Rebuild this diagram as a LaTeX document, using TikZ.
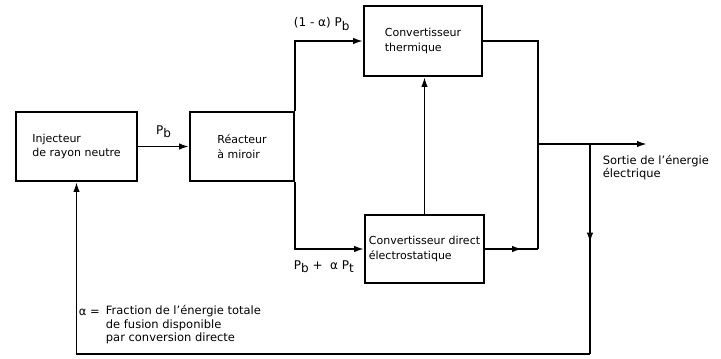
\documentclass[tikz,border=0pt]{standalone}
\usepackage{fontspec}
\setmainfont{DejaVu Sans}
\usepackage{tikz}
\usetikzlibrary{arrows.meta, positioning, decorations.markings}
\newcommand{\idx}[1]{\raisebox{-0.5ex}{#1}}

\begin{document}
\begin{tikzpicture}[x=1pt, y=-1pt,
  font=\fontsize{11}{14.5}\selectfont,
  line width=1.8pt,
  >={Latex[length=10pt,width=6.5pt]},
  bloc/.style={draw, rectangle, align=left, inner sep=0pt},
  lbl/.style={font=\fontsize{12}{14}\selectfont, inner sep=0pt},
  note/.style={font=\fontsize{11.5}{13.5}\selectfont, inner sep=0pt, align=left, anchor=west},
  midarrow/.style={postaction={decorate},
    decoration={markings, mark=at position #1 with {\arrow{>}}}},
]
\useasboundingbox (0,0) rectangle (721,359);

% blocs
\node[bloc, minimum width=121pt, minimum height=69pt] (inj) at (76.5,146.5) {Injecteur\\de rayon neutre};
\node[bloc, minimum width=104pt, minimum height=69pt] (reac) at (242,146.5) {Réacteur\\à miroir};
\node[bloc, minimum width=118pt, minimum height=70pt] (therm) at (423,41) {Convertisseur\\thermique};
\node[bloc, minimum width=119pt, minimum height=68pt] (direct) at (424.5,249) {Convertisseur direct\\électrostatique};

% points de jonction
\coordinate (jd) at (538,249);
\coordinate (bus) at (538,144);
\coordinate (br) at (590,144);
\coordinate (out) at (647,144);
\coordinate (fb) at (590,354);

% liaisons
\draw[->] (inj) -- (reac) node[lbl, midway, above=8pt] {P\idx{b}};
\draw[->] (reac.north east) |- (therm.west);
\draw[->] (reac.south east) |- (direct.west);
\draw[->] (direct.north) -- (direct.north |- therm.south);
\draw (therm.east) -| (jd);
\draw[midarrow=0.7] (direct.east) -- (jd);
\draw[->] (bus) -- (out);
\draw[midarrow=0.47] (br) -- (fb);
\draw[->] (fb) -| (inj.south);

% textes
\node[lbl, anchor=west] (fth) at (293,24) {(1 - α) P\idx{b}};
\node[lbl, anchor=west] (fdi) at (293,267) {P\idx{b} + \ α P\idx{t}};
\node[note] (sortie) at (602,167.5) {Sortie de l’énergie\\électrique};
\node[note] (alpha) at (78,312) {α =};
\node[note] (def) at (105,325) {Fraction de l’énergie totale\\de fusion disponible\\par conversion directe};
\end{tikzpicture}
\end{document}
